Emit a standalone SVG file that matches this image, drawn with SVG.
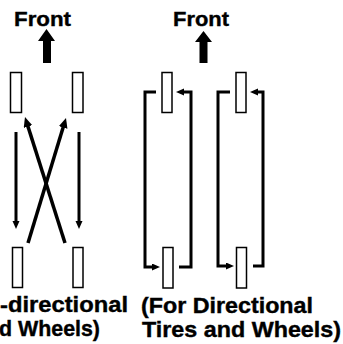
<svg xmlns="http://www.w3.org/2000/svg" width="343" height="344" viewBox="0 0 343 344">
<style>
.tire{fill:#fff;stroke:#000;stroke-width:1.5}
.conn{fill:none;stroke:#000;stroke-width:3;marker-end:url(#ah)}
.diag{fill:none;stroke:#000;stroke-width:3.5;marker-end:url(#ahb)}
.lbl{font-family:"Liberation Sans",Arial,sans-serif;font-weight:bold;fill:#000;stroke:#000;stroke-width:0.4}
</style>
<defs>
<marker id="ah" markerUnits="userSpaceOnUse" markerWidth="9" markerHeight="8" refX="1" refY="3.5" orient="auto">
<path d="M0,0 L8,3.5 L0,7 z" fill="#000"/>
</marker>
<marker id="ahb" markerUnits="userSpaceOnUse" markerWidth="11" markerHeight="10" refX="1" refY="4.5" orient="auto">
<path d="M0,0 L10,4.5 L0,9 z" fill="#000"/>
</marker>
</defs>
<rect width="343" height="344" fill="#fff"/>
<g id="front-left">
<text class="lbl" x="14" y="26" font-size="21" textLength="57" lengthAdjust="spacingAndGlyphs">Front</text>
<polygon points="46.5,29 55,41 51,41 51,63 43,63 43,41 38,41" fill="#000"/>
</g>
<g id="front-right">
<text class="lbl" x="173" y="26" font-size="21" textLength="56" lengthAdjust="spacingAndGlyphs">Front</text>
<polygon points="203.5,31 212,42 207.5,42 207.5,63 199.5,63 199.5,42 195,42" fill="#000"/>
</g>
<g id="tire-a-fl"><rect class="tire" x="10.5" y="72.5" width="11" height="40"/></g>
<g id="tire-a-fr"><rect class="tire" x="72.5" y="72.5" width="10.5" height="40"/></g>
<g id="tire-a-rl"><rect class="tire" x="12.5" y="247.5" width="10" height="40"/></g>
<g id="tire-a-rr"><rect class="tire" x="73" y="247.5" width="10" height="40"/></g>
<g id="tire-b1-f"><rect class="tire" x="162" y="72.5" width="10" height="40"/></g>
<g id="tire-b1-r"><rect class="tire" x="163" y="247.5" width="10" height="40.5"/></g>
<g id="tire-b2-f"><rect class="tire" x="236" y="72.5" width="10" height="40"/></g>
<g id="tire-b2-r"><rect class="tire" x="236.5" y="247.5" width="10" height="40.5"/></g>
<g id="connectors">
<line class="conn" x1="16" y1="132" x2="16" y2="222"/>
<line class="conn" x1="79" y1="132" x2="79" y2="222"/>
<line class="diag" x1="28" y1="243" x2="63.4" y2="126.6"/>
<line class="diag" x1="65" y1="243" x2="27.7" y2="125.6"/>
<path class="conn" d="M156,92 H145 V267 H153"/>
<path class="conn" d="M179,267 H191 V92 H183"/>
<path class="conn" d="M230,92 H218 V266 H227"/>
<path class="conn" d="M253,266 H263 V92 H257"/>
</g>
<g id="caption-left">
<text class="lbl" x="128" y="312" font-size="22" text-anchor="end" textLength="128" lengthAdjust="spacingAndGlyphs">-directional</text>
<text class="lbl" x="100" y="336" font-size="22" text-anchor="end" textLength="101" lengthAdjust="spacingAndGlyphs">d Wheels)</text>
</g>
<g id="caption-right">
<text class="lbl" x="141" y="312.5" font-size="22" textLength="172" lengthAdjust="spacingAndGlyphs">(For Directional</text>
<text class="lbl" x="142" y="336.5" font-size="22" textLength="199" lengthAdjust="spacingAndGlyphs">Tires and Wheels)</text>
</g>
</svg>
